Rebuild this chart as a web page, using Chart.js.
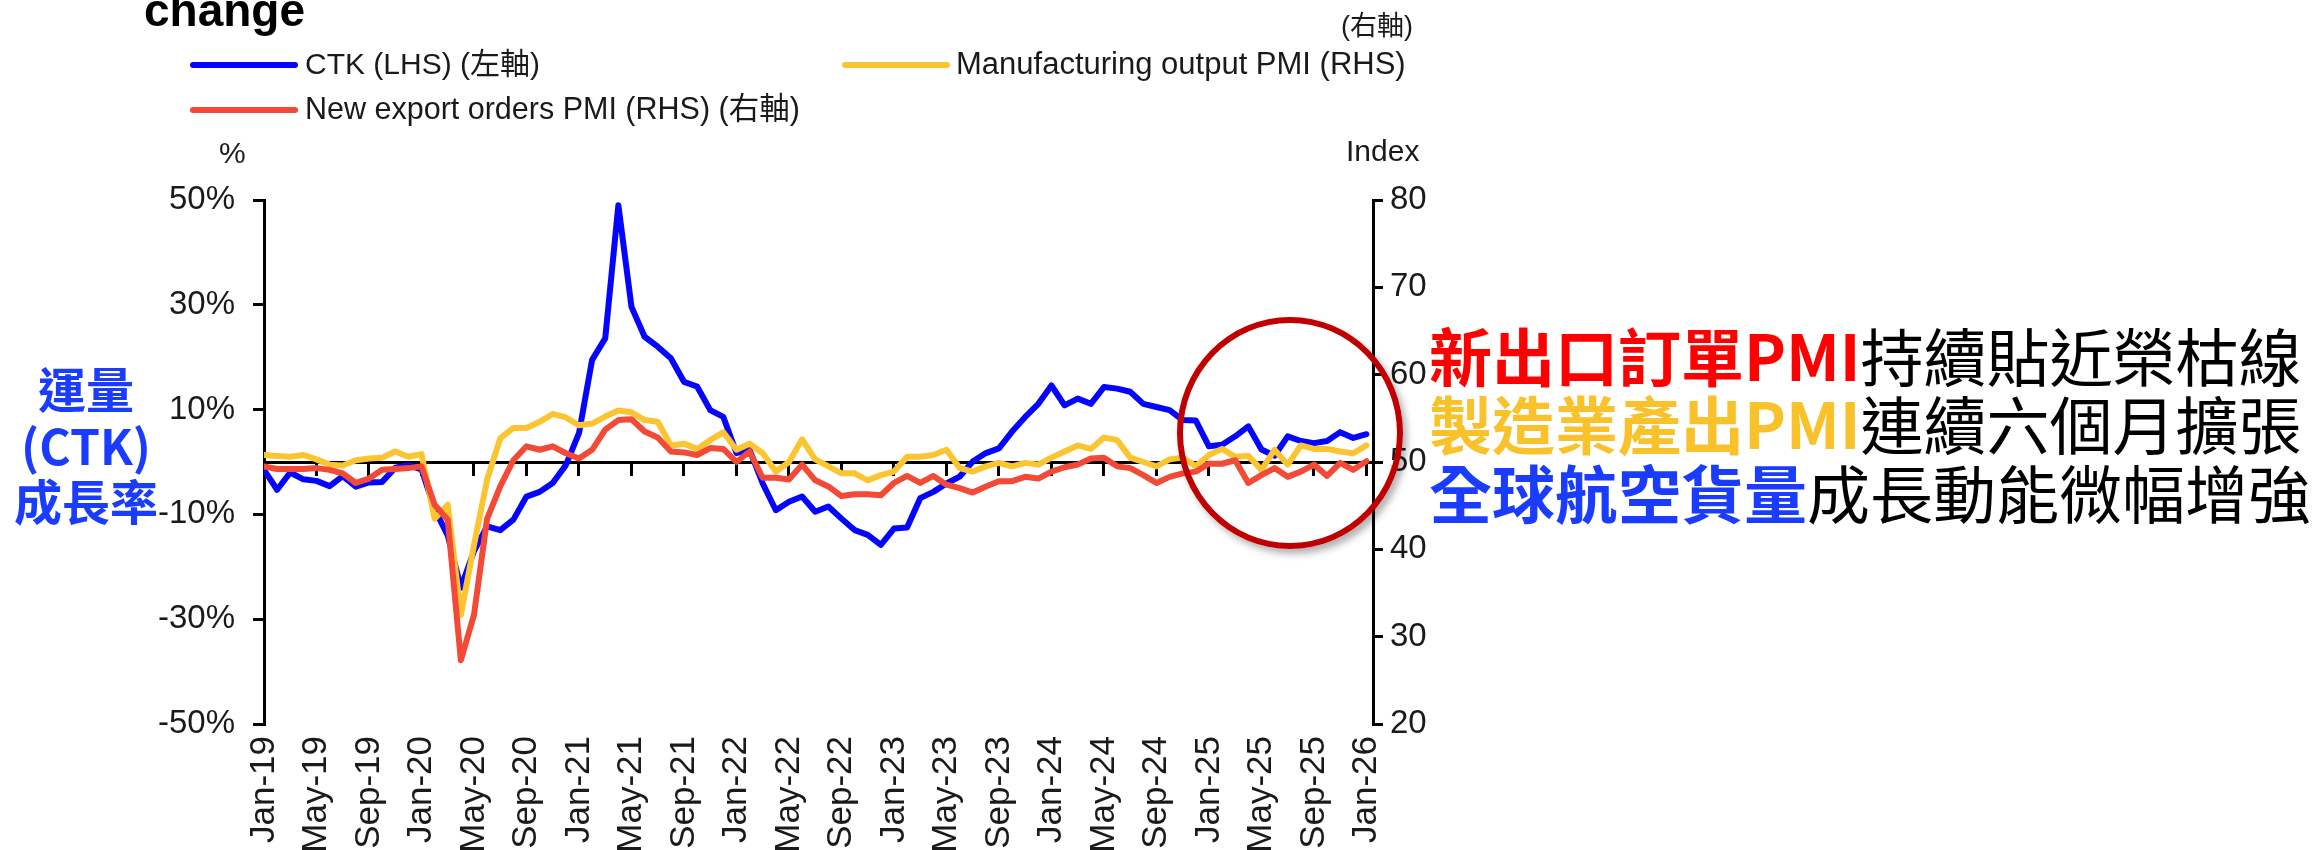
<!DOCTYPE html>
<html>
<head>
<meta charset="utf-8">
<script src="https://cdn.jsdelivr.net/npm/chart.js@4.4.1/dist/chart.umd.min.js"></script>
<style>
  body { margin: 0; background: #fff; }
  #wrap { position: relative; width: 2323px; height: 850px; overflow: hidden; }
  #chart--air { position: absolute; left: 0; top: 0; }
  .t { position: absolute; white-space: nowrap; font-family: "Liberation Sans", Arial, "Noto Sans CJK TC", sans-serif; color: #1a1a1a; }
  .sw { position: absolute; height: 6px; border-radius: 3px; }
  .cjk { position: absolute; white-space: nowrap; font-family: "Noto Sans CJK TC", sans-serif; }
  .b { font-weight: 700; }
  #circle { position: absolute; box-sizing: border-box; border: 6px solid #c00000; border-radius: 50%;
            box-shadow: 4px 5px 7px rgba(0,0,0,0.3); }
</style>
</head>
<body>
<div id="wrap">
  <canvas id="chart--air" width="2323" height="850"></canvas>

  <div class="t b" style="left:144px;top:-13px;font-size:46px;line-height:46px;color:#000;">change</div>
  <div class="t" style="left:1341px;top:10px;font-size:27px;line-height:32px;">(右軸)</div>
  <div id="legend"></div>
  <div class="t" style="left:219px;top:133px;font-size:30px;line-height:40px;">%</div>
  <div class="t" style="left:1346px;top:131px;font-size:30px;line-height:40px;">Index</div>

  <div class="cjk b" style="left:-4px;width:180px;text-align:center;top:357px;font-size:48px;line-height:60px;color:#1a3cff;">運量</div>
  <div class="cjk b" style="left:-4px;width:180px;text-align:center;top:414px;font-size:48px;line-height:60px;color:#1a3cff;">(CTK)</div>
  <div class="cjk b" style="left:-4px;width:180px;text-align:center;top:469px;font-size:48px;line-height:60px;color:#1a3cff;">成長率</div>

  <div id="circle" style="left:1177px;top:317px;width:226px;height:232px;"></div>

  <div class="cjk" style="left:1429px;top:318px;font-size:63px;line-height:72px;color:#000;"><span class="b" style="color:#ff0000;">新出口訂單PMI</span>持續貼近榮枯線</div>
  <div class="cjk" style="left:1429px;top:386px;font-size:63px;line-height:72px;color:#000;"><span class="b" style="color:#f9c22b;">製造業產出PMI</span>連續六個月擴張</div>
  <div class="cjk" style="left:1429px;top:455px;font-size:63px;line-height:72px;color:#000;"><span class="b" style="color:#1a3cff;">全球航空貨量</span>成長動能微幅增強</div>
</div>
<script>
// tick labels on the month axis (every 4 months, Jan-19 .. Jan-26)
const tickLabels = ['Jan-19','May-19','Sep-19','Jan-20','May-20','Sep-20','Jan-21','May-21','Sep-21',
	'Jan-22','May-22','Sep-22','Jan-23','May-23','Sep-23','Jan-24','May-24','Sep-24',
	'Jan-25','May-25','Sep-25','Jan-26']

// CTK growth, % y/y, monthly Jan-19 .. Jan-26
const ctkGrowth = [
	-1.5, -5.3, -2.0, -3.3, -3.6, -4.6, -2.7, -4.7, -3.9, -3.8, -1.1, -0.6,
	-1.4, -9.0, -14.0, -24.0, -17.0, -12.3, -13.0, -11.0, -6.6, -5.7, -4.0, -0.6,
	5.5, 19.5, 23.6, 49.0, 29.6, 23.9, 22.0, 19.8, 15.3, 14.4, 9.9, 8.6,
	1.7, 2.3, -4.1, -9.2, -7.6, -6.6, -9.5, -8.5, -10.8, -13.0, -13.9, -15.8,
	-12.7, -12.5, -6.9, -5.7, -4.1, -2.8, 0.1, 1.7, 2.6, 5.8, 8.6, 11.1,
	14.6, 10.8, 12.1, 11.1, 14.3, 14.0, 13.4, 11.1, 10.5, 9.9, 8.0, 7.9,
	3.0, 3.3, 4.9, 6.8, 2.4, 1.2, 4.9, 4.0, 3.6, 4.0, 5.7, 4.6,
	5.3
]

// Manufacturing output PMI, index
const mfgOutputPmi = [
	50.8, 50.7, 50.6, 50.8, 50.3, 49.7, 49.6, 50.2, 50.4, 50.5, 51.2, 50.6,
	50.9, 43.5, 45.1, 32.5, 40.5, 48.0, 52.7, 53.9, 53.9, 54.6, 55.5, 55.1,
	54.2, 54.4, 55.2, 55.9, 55.7, 54.8, 54.6, 51.9, 52.1, 51.5, 52.5, 53.4,
	51.4, 52.1, 51.0, 48.9, 50.0, 52.6, 50.3, 49.5, 48.7, 48.7, 47.9, 48.5,
	48.9, 50.6, 50.6, 50.8, 51.4, 49.3, 48.9, 49.5, 49.9, 49.5, 49.9, 49.7,
	50.5, 51.2, 51.9, 51.5, 52.8, 52.5, 50.5, 50.0, 49.5, 50.3, 50.5, 49.5,
	50.8, 51.5, 50.6, 50.7, 49.1, 51.4, 49.7, 51.9, 51.5, 51.5, 51.2, 51.0,
	51.9
]

// New export orders PMI, index
const newExportOrdersPmi = [
	49.5, 49.2, 49.2, 49.2, 49.3, 49.1, 48.7, 47.6, 48.1, 49.1, 49.2, 49.3,
	49.5, 45.1, 43.4, 27.3, 32.5, 43.5, 47.2, 50.2, 51.8, 51.4, 51.8, 51.0,
	50.4, 51.4, 53.7, 54.8, 54.9, 53.5, 52.8, 51.2, 51.1, 50.8, 51.6, 51.5,
	50.0, 51.2, 48.2, 48.2, 48.0, 49.7, 47.9, 47.2, 46.1, 46.3, 46.3, 46.2,
	47.6, 48.4, 47.6, 48.4, 47.4, 47.0, 46.5, 47.2, 47.8, 47.8, 48.3, 48.1,
	48.9, 49.4, 49.7, 50.4, 50.5, 49.5, 49.3, 48.5, 47.6, 48.3, 48.7, 48.9,
	49.8, 49.8, 50.2, 47.6, 48.5, 49.3, 48.3, 48.9, 49.7, 48.4, 49.9, 49.1,
	50.1
]

var blue = '#0505ff'
var yellow = '#fbc531'
var red = '#f24a36'
var txt = '#1a1a1a'
var sans = '"Liberation Sans", Arial, sans-serif'

function toPoints(arr) {
	return arr.map(function(v, i) { return { x: i, y: v } })
}
function monthTicks(scale) {
	scale.ticks = tickLabels.map(function(l, k) { return { value: k * 4 } })
}

var series = [
	{ label: 'CTK (LHS) (左軸)', data: ctkGrowth, color: blue, axis: 'y', order: 2, legend: [190, 65, 305, 64, 30] },
	{ label: 'Manufacturing output PMI (RHS)', data: mfgOutputPmi, color: yellow, axis: 'y1', order: 1, legend: [842, 65, 956, 64, 31] },
	{ label: 'New export orders PMI (RHS) (右軸)', data: newExportOrdersPmi, color: red, axis: 'y1', order: 0, legend: [190, 110, 305, 108, 30.5] }
]

// legend drawn as html so it can sit where the original has it
var legend = document.getElementById('legend')
series.forEach(function(s) {
	var sw = document.createElement('div')
	sw.className = 'sw'
	sw.style.cssText = 'left:' + s.legend[0] + 'px;top:' + (s.legend[1] - 3) + 'px;width:108px;background:' + s.color
	legend.appendChild(sw)
	var lab = document.createElement('div')
	lab.className = 't'
	lab.style.cssText = 'left:' + s.legend[2] + 'px;top:' + (s.legend[3] - 20) + 'px;font-size:' + s.legend[4] + 'px;line-height:40px;'
	lab.textContent = s.label
	legend.appendChild(lab)
})

const ctx = document.getElementById('chart--air').getContext('2d')
const chart__air = new Chart(ctx, {
	type: 'line',
	data: {
		datasets: series.map(function(s) {
			return {
				label: s.label,
				data: toPoints(s.data),
				xAxisID: 'x',
				yAxisID: s.axis,
				borderColor: s.color,
				backgroundColor: s.color,
				borderWidth: 6,
				borderJoinStyle: 'round',
				borderCapStyle: 'round',
				pointRadius: 0,
				tension: 0,
				fill: false,
				order: s.order
			}
		})
	},
	options: {
		responsive: false,
		animation: false,
		devicePixelRatio: 1,
		layout: { padding: { top: 200, left: 0, right: 0, bottom: 0 } },
		plugins: {
			legend: { display: false },
			tooltip: { enabled: false }
		},
		scales: {
			x: {
				type: 'linear',
				position: 'bottom',
				min: 0,
				max: 84.5,
				afterBuildTicks: monthTicks,
				afterFit: function(scale) { scale.height = 126 },
				grid: { display: false, drawTicks: false },
				border: { display: false },
				ticks: {
					autoSkip: false,
					minRotation: 90,
					maxRotation: 90,
					padding: 12,
					color: txt,
					font: { family: sans, size: 35 },
					callback: function(v) { return tickLabels[Math.round(v / 4)] }
				}
			},
			x2: {
				type: 'linear',
				axis: 'x',
				position: { y: 0 },
				min: 0,
				max: 84.5,
				afterBuildTicks: monthTicks,
				afterFit: function(scale) { scale.height = 0 },
				grid: { display: true, drawOnChartArea: false, drawTicks: true, tickLength: 12, color: '#000', lineWidth: 3 },
				border: { display: true, color: '#000', width: 3 },
				ticks: { display: false }
			},
			y: {
				position: 'left',
				min: -50,
				max: 50,
				afterFit: function(scale) { scale.width = 264 },
				grid: { display: true, drawOnChartArea: false, drawTicks: true, tickLength: 11, color: '#000', lineWidth: 3 },
				border: { display: true, color: '#000', width: 3 },
				ticks: {
					stepSize: 20,
					padding: 18,
					color: txt,
					font: { family: sans, size: 33 },
					callback: function(v) { return v + '%' }
				}
			},
			y1: {
				position: 'right',
				min: 20,
				max: 80,
				afterFit: function(scale) { scale.width = 950 },
				grid: { display: true, drawOnChartArea: false, drawTicks: true, tickLength: 10, color: '#000', lineWidth: 3 },
				border: { display: true, color: '#000', width: 3 },
				ticks: {
					stepSize: 10,
					padding: 7,
					color: txt,
					font: { family: sans, size: 33 }
				}
			}
		}
	}
})
</script>
</body>
</html>
